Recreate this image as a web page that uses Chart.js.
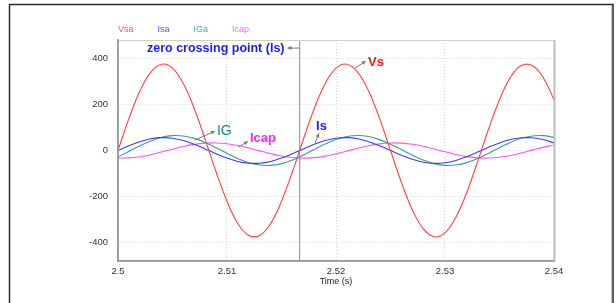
<!DOCTYPE html>
<html><head><meta charset="utf-8">
<script src="https://cdn.jsdelivr.net/npm/chart.js@4"></script>
<style>html,body{margin:0;padding:0;background:#fff;overflow:hidden}canvas{display:block}</style>
</head><body><canvas id="c" width="616" height="303"></canvas>
<script>
// ---- data ----
const time = [2.500,2.501,2.502,2.503,2.504,2.505,2.506,2.507,2.508,2.509,2.510,2.511,2.512,2.513,2.514,2.515,2.516,2.517,2.518,2.519,2.520,2.521,2.522,2.523,2.524,2.525,2.526,2.527,2.528,2.529,2.530,2.531,2.532,2.533,2.534,2.535,2.536,2.537,2.538,2.539,2.540];
const Vsa = [0,138,257,339,374,357,289,181,47,-93,-220,-317,-368,-368,-317,-220,-93,47,181,289,357,374,339,257,138,0,-138,-257,-339,-374,-357,-289,-181,-47,93,220,317,368,368,317,220];
const Isa = [0,20.6,38.3,50.7,55.9,53.3,43.1,27.0,7.0,-13.9,-32.9,-47.3,-55.0,-55.0,-47.3,-32.9,-13.9,7.0,27.0,43.1,53.3,55.9,50.7,38.3,20.6,0,-20.6,-38.3,-50.7,-55.9,-53.3,-43.1,-27.0,-7.0,13.9,32.9,47.3,55.0,55.0,47.3,32.9];
const IGa = [-27.5,-3.9,20.3,41.6,57.1,64.5,62.9,52.5,34.6,12.0,-12.4,-35.0,-52.7,-63.0,-64.5,-56.8,-41.3,-19.9,4.3,27.9,47.5,60.5,65.0,60.4,47.2,27.5,3.9,-20.3,-41.6,-57.1,-64.5,-62.9,-52.5,-34.6,-12.0,12.4,35.0,52.7,63.0,64.5,56.8];
const Icap = [-32.7,-32.1,-27.0,-18.1,-6.6,5.7,17.3,26.4,31.8,32.8,29.1,21.4,10.6,-1.6,-13.6,-23.7,-30.5,-33.0,-30.8,-24.4,-14.5,-2.5,9.8,20.7,28.7,32.7,32.1,27.0,18.1,6.6,-5.7,-17.3,-26.4,-31.8,-32.8,-29.1,-21.4,-10.6,1.6,13.6,23.7];
const seriesNames = ['Vsa','Isa','IGa','Icap'];
const xTicks = [2.5,2.51,2.52,2.53,2.54];
const yTicks = [-400,-200,0,200,400];
const zeroCrossingTime = 2.51667;
const annotations = [
  {text:'zero crossing point (Is)', color:'#1c1cf0', bold:true, size:12.5, tx:2.50266, ty:444, from:[2.51667,444], to:[2.51555,444]},
  {text:'Vs',   color:'#f01818', bold:true, size:13, tx:2.52294, ty:383, from:[2.52174,357], to:[2.52275,388]},
  {text:'IG',   color:'#118a8a', bold:false, size:14, tx:2.50908, ty:86, from:[2.50706,45], to:[2.5089,84]},
  {text:'Icap', color:'#ee2cee', bold:true, size:13, tx:2.51211, ty:53, from:[2.51101,14], to:[2.51193,40]},
  {text:'Is',   color:'#1c1cf0', bold:true, size:13, tx:2.51817, ty:106, from:[2.51807,32], to:[2.51844,75]}
];
// ---- styles ----
const lineColors = ['#ff4040','#3a3aff','#3a9d9d','#ff50ff'];
const legendColors = ['#ff5555','#5252ff','#4aa8a8','#ff66ff'];
const FONT = '"Liberation Sans", Arial, sans-serif';

const pts = arr => arr.map((v,i)=>({x:time[i], y:v}));
const series = [Vsa, Isa, IGa, Icap];

const deco = {
  id:'deco',
  afterDraw(chart){
    const {ctx, chartArea:a, scales:{x,y}} = chart;
    ctx.save();
    // plot frame
    ctx.strokeStyle='#cfcfcf'; ctx.lineWidth=1;
    ctx.beginPath(); ctx.moveTo(a.left, a.top+0.5); ctx.lineTo(a.right, a.top+0.5); ctx.stroke();
    ctx.strokeStyle='#bdbdbd'; ctx.lineWidth=2;
    ctx.beginPath(); ctx.moveTo(a.right+0.5, a.top); ctx.lineTo(a.right+0.5, a.bottom+1); ctx.stroke();
    ctx.strokeStyle='#999'; ctx.lineWidth=1.5;
    ctx.beginPath(); ctx.moveTo(a.left, a.top); ctx.lineTo(a.left, a.bottom); ctx.lineTo(a.right, a.bottom); ctx.stroke();
    // outer frame
    ctx.strokeStyle='#2a2a2a'; ctx.lineWidth=1.5;
    ctx.beginPath(); ctx.moveTo(9.5, 310); ctx.lineTo(9.5, 4.5); ctx.lineTo(613, 4.5); ctx.lineTo(613, 310); ctx.stroke();
    ctx.strokeStyle='#c8c8c8'; ctx.lineWidth=1;
    ctx.beginPath(); ctx.moveTo(611.5, 6); ctx.lineTo(611.5, 310); ctx.stroke();
    // legend
    ctx.font = '9px '+FONT; ctx.textBaseline='middle'; ctx.textAlign='left';
    let lx = a.left;
    seriesNames.forEach((n,i)=>{ ctx.fillStyle=legendColors[i]; ctx.fillText(n, lx, 29.5); lx += ctx.measureText(n).width + 24; });
    // axis title
    ctx.fillStyle='#222'; ctx.textAlign='center';
    ctx.fillText('Time (s)', (a.left+a.right)/2, 282);
    // annotations
    annotations.forEach(an=>{
      const fx=x.getPixelForValue(an.from[0]), fy=y.getPixelForValue(an.from[1]);
      const tx=x.getPixelForValue(an.to[0]), ty=y.getPixelForValue(an.to[1]);
      ctx.strokeStyle='#7a7a7a'; ctx.fillStyle='#7a7a7a'; ctx.lineWidth=1;
      ctx.beginPath(); ctx.moveTo(fx,fy); ctx.lineTo(tx,ty); ctx.stroke();
      const ang=Math.atan2(ty-fy, tx-fx), L=4.5, W=0.45;
      ctx.beginPath(); ctx.moveTo(tx,ty);
      ctx.lineTo(tx-L*Math.cos(ang-W), ty-L*Math.sin(ang-W));
      ctx.lineTo(tx-L*Math.cos(ang+W), ty-L*Math.sin(ang+W)); ctx.closePath(); ctx.fill();
      ctx.font=(an.bold?'bold ':'')+an.size+'px '+FONT;
      ctx.fillStyle=an.color; ctx.textAlign='left'; ctx.textBaseline='middle';
      ctx.fillText(an.text, x.getPixelForValue(an.tx), y.getPixelForValue(an.ty));
    });
    ctx.restore();
  }
};

const datasets = series.map((s,i)=>({label:seriesNames[i], data:pts(s), borderColor:lineColors[i], borderWidth:1.1, pointRadius:0, tension:0.4, fill:false}));
datasets.push({label:'zc', data:[{x:zeroCrossingTime,y:-480},{x:zeroCrossingTime,y:480}], borderColor:'#8a8a8a', borderWidth:1, pointRadius:0, tension:0});

new Chart(document.getElementById('c'), {
  type:'line',
  data:{datasets},
  options:{
    responsive:false, animation:false,
    layout:{padding:{left:0, top:40, right:62, bottom:0}},
    plugins:{legend:{display:false}, tooltip:{enabled:false}},
    scales:{
      x:{type:'linear', min:2.5, max:2.54,
         afterBuildTicks:s=>{s.ticks=xTicks.map(v=>({value:v}));},
         afterFit:s=>{s.height=42;},
         ticks:{callback:v=>String(+v.toFixed(3)), font:{family:FONT,size:9.5}, color:'#333', padding:5, maxRotation:0, autoSkip:false},
         grid:{color:'#d6d6d6', drawTicks:false, lineWidth:1},
         border:{color:'#9a9a9a', width:1.5, dash:[1,2]}},
      y:{type:'linear', min:-479, max:479,
         afterBuildTicks:s=>{s.ticks=yTicks.map(v=>({value:v}));},
         afterFit:s=>{s.width=118;},
         ticks:{font:{family:FONT,size:9.5}, color:'#333', padding:10},
         grid:{color:'#d6d6d6', drawTicks:false, lineWidth:1},
         border:{color:'#9a9a9a', width:1.5, dash:[1,2]}}
    }
  },
  plugins:[deco]
});
</script></body></html>
